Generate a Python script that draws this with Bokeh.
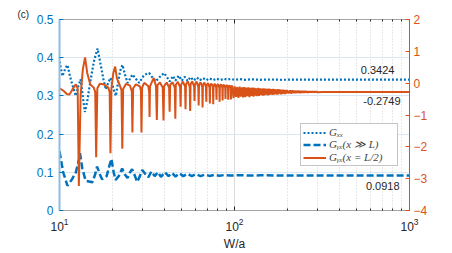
from bokeh.plotting import figure
from bokeh.models import Range1d, LinearAxis, LogAxis, FixedTicker, Legend, LegendItem, Label
from bokeh.embed import file_html
from bokeh.resources import INLINE

BLUE = "#0072BD"
ORANGE = "#D95319"

# G_xx (left axis)
GXX = [(10.0, 0.390), (10.4, 0.352), (10.8, 0.372), (11.1, 0.381), (11.5, 0.350), (11.9, 0.326),
       (12.4, 0.300), (12.8, 0.325), (13.2, 0.343), (13.5, 0.309), (13.95, 0.258), (14.4, 0.285),
       (14.8, 0.321), (15.3, 0.360), (15.8, 0.394), (16.5, 0.424), (17.2, 0.381), (17.8, 0.345),
       (18.4, 0.317), (19.0, 0.335), (19.6, 0.347), (20.3, 0.320), (21.0, 0.300), (21.6, 0.335),
       (22.2, 0.365), (22.9, 0.381), (23.7, 0.355), (24.5, 0.334), (25.3, 0.345), (26.1, 0.356),
       (27.3, 0.345), (28.5, 0.334), (29.5, 0.345), (30.5, 0.355), (32.5, 0.360), (34.0, 0.348),
       (35.5, 0.338), (37.5, 0.350), (39.6, 0.360), (41.0, 0.350), (42.6, 0.338), (44.5, 0.352),
       (46.0, 0.340), (48.0, 0.353), (50.0, 0.340), (52.0, 0.350), (54.0, 0.339), (56.0, 0.349),
       (58.5, 0.340), (61.0, 0.348), (63.5, 0.341), (66.0, 0.347), (69.0, 0.341), (72.0, 0.346),
       (75.5, 0.341), (79.0, 0.3455), (83.0, 0.3415), (87.0, 0.345), (91.0, 0.342), (95.0, 0.3445),
       (100.0, 0.342), (107.0, 0.344), (115.0, 0.342), (125.0, 0.3435), (140.0, 0.3422),
       (160.0, 0.3430), (185.0, 0.3422), (220.0, 0.3426), (300.0, 0.3424), (1000.0, 0.3424)]

# G_yx(x >> L) (left axis)
GYX_FAR = [(10.0, 0.155), (10.5, 0.100), (11.1, 0.065), (11.8, 0.082), (12.4, 0.100), (12.9, 0.132),
           (13.1, 0.150), (13.5, 0.110), (14.1, 0.078), (15.4, 0.074), (16.0, 0.095), (16.4, 0.115),
           (17.0, 0.095), (17.5, 0.082), (18.6, 0.090), (19.3, 0.118), (19.8, 0.135), (20.4, 0.100),
           (20.9, 0.080), (21.8, 0.090), (22.8, 0.110), (23.6, 0.095), (24.5, 0.085), (25.3, 0.100),
           (26.0, 0.108), (26.9, 0.092), (27.8, 0.075), (28.8, 0.090), (29.7, 0.106), (31.0, 0.095),
           (32.2, 0.087), (33.5, 0.102), (35.0, 0.090), (36.5, 0.100), (38.0, 0.088), (40.0, 0.100),
           (42.0, 0.090), (44.0, 0.098), (46.0, 0.089), (48.5, 0.097), (51.0, 0.090), (54.0, 0.096),
           (57.0, 0.090), (60.0, 0.095), (64.0, 0.090), (68.0, 0.094), (72.0, 0.0905), (77.0, 0.0935),
           (82.0, 0.091), (88.0, 0.093), (95.0, 0.0915), (105.0, 0.0925), (120.0, 0.0916),
           (140.0, 0.0920), (200.0, 0.0918), (1000.0, 0.0918)]

# G_yx(x = L/2) (right axis)
GYX_HALF = [(10.0, -0.16), (10.5, -0.23), (11.0, -0.34), (11.4, -0.36), (11.9, -0.18), (12.4, -0.04),
            (12.7, -0.16), (12.9, -3.23), (13.2, -0.40), (13.6, 0.44), (14.0, 0.81), (14.4, 0.32),
            (15.0, -0.04), (15.7, -0.14), (16.0, -0.28), (16.2, -2.33), (16.45, -0.16), (17.0, -0.02),
            (18.0, -0.04), (19.0, -0.14), (19.35, -0.28), (19.55, -2.20), (19.8, -0.16), (20.3, 0.32),
            (20.8, 0.52), (21.3, 0.14), (22.0, -0.04), (22.6, -0.22), (22.85, -2.06), (23.1, -0.18),
            (24.0, -0.02), (25.3, -0.08), (25.9, -0.26), (26.1, -1.55), (26.35, -0.16), (27.3, -0.04),
            (28.8, -0.10), (29.2, -0.24), (29.4, -1.55), (29.65, -0.14), (30.5, 0.01), (32.2, -0.10),
            (32.55, -0.28), (32.7, -1.06), (32.9, -0.10), (34.0, 0.08), (34.6, 0.16), (35.6, -0.10),
            (36.0, -1.16), (36.3, -0.06), (37.5, 0.02), (38.9, -0.14), (39.3, -1.17), (39.6, -0.09),
            (41.0, 0.02),
            (42.3, -0.14), (42.6, -0.90), (42.9, -0.05), (44.2, 0.03),
            (45.6, -0.14), (45.9, -1.12), (46.2, -0.05), (47.5, 0.04),
            (48.9, -0.13), (49.2, -0.74), (49.5, -0.05), (50.8, 0.05),
            (52.2, -0.12), (52.5, -0.82), (52.8, -0.04), (54.1, 0.06),
            (55.5, -0.12), (55.8, -0.87), (56.1, -0.04), (57.4, 0.06),
            (58.8, -0.12), (59.1, -0.56), (59.4, -0.04), (60.7, 0.05),
            (62.1, -0.12), (62.4, -0.70), (62.7, -0.05), (64.0, 0.03),
            (65.4, -0.12), (65.7, -0.76), (66.0, -0.05), (67.3, 0.02),
            (68.7, -0.13), (69.0, -0.58), (69.3, -0.06), (70.6, 0.00),
            (72.0, -0.13), (72.3, -0.64), (72.6, -0.07), (73.9, -0.01),
            (75.3, -0.13), (75.6, -0.66), (75.9, -0.08), (77.2, -0.02),
            (78.6, -0.14), (78.9, -0.52), (79.2, -0.08), (80.5, -0.03),
            (81.9, -0.14), (82.2, -0.58), (82.5, -0.09), (83.8, -0.04),
            (85.2, -0.14), (85.5, -0.54), (85.8, -0.09), (87.1, -0.05),
            (88.5, -0.15), (88.8, -0.50), (89.1, -0.10), (90.4, -0.06),
            (91.8, -0.15), (92.1, -0.52), (92.4, -0.10), (93.7, -0.07),
            (95.1, -0.16), (95.4, -0.51), (95.7, -0.11), (97.0, -0.08),
            (98.7, -0.47), (100.35, -0.10), (102.0, -0.43), (103.65, -0.12), (105.3, -0.46), (106.95, -0.11),
            (108.6, -0.42), (110.25, -0.13), (111.9, -0.45), (113.55, -0.12), (115.2, -0.44), (116.85, -0.14),
            (118.5, -0.41), (120.15, -0.13), (121.8, -0.44), (123.45, -0.15), (125.1, -0.40), (126.75, -0.14),
            (128.4, -0.42), (130.05, -0.15), (131.7, -0.39), (133.35, -0.16), (135.0, -0.41), (136.65, -0.15),
            (138.3, -0.40), (139.95, -0.16), (141.6, -0.37), (143.25, -0.17), (144.9, -0.39), (146.55, -0.16),
            (148.2, -0.38), (149.85, -0.17), (151.5, -0.36), (153.15, -0.18), (154.8, -0.38), (156.45, -0.17),
            (158.1, -0.37), (159.75, -0.18), (161.4, -0.35), (163.05, -0.19), (164.7, -0.37), (166.35, -0.18),
            (168.0, -0.36), (169.65, -0.19), (171.3, -0.34), (172.95, -0.20), (174.6, -0.36), (176.25, -0.19),
            (177.9, -0.35), (179.55, -0.20), (181.2, -0.33), (182.85, -0.20), (184.5, -0.35), (186.15, -0.21),
            (187.8, -0.34), (189.45, -0.20), (191.1, -0.33), (192.75, -0.21), (194.4, -0.34), (196.05, -0.21),
            (197.7, -0.33), (199.35, -0.22),
            (204.3, -0.32), (207.6, -0.225), (210.9, -0.325), (214.2, -0.23), (217.5, -0.31), (220.8, -0.235),
            (224.1, -0.315), (227.4, -0.24), (230.7, -0.305), (234.0, -0.24), (237.3, -0.31), (240.6, -0.245),
            (243.9, -0.30), (247.2, -0.25), (250.5, -0.30), (253.8, -0.25), (257.1, -0.295), (260.4, -0.255),
            (263.7, -0.295), (267.0, -0.258), (270.3, -0.29), (273.6, -0.26), (276.9, -0.29), (280.2, -0.262),
            (283.5, -0.288), (286.8, -0.265), (290.1, -0.285), (293.4, -0.267), (296.7, -0.283),
            (320.0, -0.2749), (1000.0, -0.2749)]

X_TICKS = [10, 100, 1000]
X_MINOR = [20, 30, 40, 50, 60, 70, 80, 90, 200, 300, 400, 500, 600, 700, 800, 900]
X_LABELS = {"10": "10\u00b9", "100": "10\u00b2", "1000": "10\u00b3"}
L_TICKS = [0, 0.1, 0.2, 0.3, 0.4, 0.5]
R_TICKS = [-4, -3, -2, -1, 0, 1, 2]

FINAL_XX = "0.3424"
FINAL_HALF = "-0.2749"
FINAL_FAR = "0.0918"

p = figure(width=452, height=253, x_axis_type="log", x_range=Range1d(10, 1000),
           y_range=Range1d(0, 0.5), output_backend="svg", toolbar_location=None,
           min_border_left=59, min_border_right=43, min_border_top=19, min_border_bottom=40)
p.extra_y_ranges = {"r": Range1d(-4, 2)}
p.background_fill_color = "white"
p.border_fill_color = "white"
p.outline_line_color = "#a6a6a6"

TICK_FONT = "Liberation Sans"

p.title.text = "(c)"
p.title.align = "left"
p.title.offset = -42
p.title.standoff = 0
p.title.text_font = TICK_FONT
p.title.text_font_size = "10px"
p.title.text_font_style = "normal"
p.title.text_color = "#262626"

xa = p.xaxis[0]
xa.ticker = FixedTicker(ticks=X_TICKS, minor_ticks=X_MINOR)
xa.major_label_overrides = X_LABELS
xa.major_tick_in = 4
xa.major_tick_out = 0
xa.minor_tick_in = 2
xa.minor_tick_out = 0
xa.axis_line_color = "#a6a6a6"
xa.major_tick_line_color = "#262626"
xa.minor_tick_line_color = "#262626"
xa.major_label_text_font = TICK_FONT
xa.major_label_text_font_size = "12px"
xa.major_label_text_color = "#262626"
xa.major_label_standoff = 7
xa.axis_label = "W/a"
xa.axis_label_text_font = TICK_FONT
xa.axis_label_text_font_size = "12px"
xa.axis_label_text_font_style = "normal"
xa.axis_label_text_color = "#262626"
xa.axis_label_standoff = 3

top = LogAxis(ticker=FixedTicker(ticks=X_TICKS, minor_ticks=X_MINOR),
              major_label_text_font_size="1px", major_label_text_alpha=0,
              major_tick_in=4, major_tick_out=0, minor_tick_in=2, minor_tick_out=0,
              axis_line_color="#a6a6a6", major_tick_line_color="#262626",
              minor_tick_line_color="#262626", major_label_standoff=0)
p.add_layout(top, "above")

ya = p.yaxis[0]
ya.ticker = FixedTicker(ticks=L_TICKS)
ya.major_label_overrides = {"0": "0"}
ya.major_tick_in = 4
ya.major_tick_out = 0
ya.minor_tick_line_color = None
ya.axis_line_color = "#8fbde0"
ya.axis_line_width = 2
ya.major_tick_line_color = BLUE
ya.major_label_text_color = BLUE
ya.major_label_text_font = TICK_FONT
ya.major_label_text_font_size = "12px"
ya.major_label_standoff = 6

ra = LinearAxis(y_range_name="r", ticker=FixedTicker(ticks=R_TICKS))
ra.major_tick_in = 4
ra.major_tick_out = 0
ra.minor_tick_line_color = None
ra.axis_line_color = ORANGE
ra.major_tick_line_color = ORANGE
ra.major_label_text_color = ORANGE
ra.major_label_text_font = TICK_FONT
ra.major_label_text_font_size = "12px"
ra.major_label_standoff = 4
p.add_layout(ra, "right")

p.xgrid.ticker = FixedTicker(ticks=X_TICKS, minor_ticks=X_MINOR)
p.xgrid.grid_line_color = "#dcdcdc"
p.xgrid.minor_grid_line_color = "#d0d0d0"
p.xgrid.minor_grid_line_dash = "1 2"
p.ygrid.ticker = FixedTicker(ticks=L_TICKS)
p.ygrid.grid_line_color = "#d9e8f4"

r1 = p.line([w for w, g in GXX], [g for w, g in GXX], line_color=BLUE, line_width=2.2, line_dash="2 2")
r2 = p.line([w for w, g in GYX_FAR], [g for w, g in GYX_FAR], line_color=BLUE, line_width=2.5, line_dash="7 3")
r3 = p.line([w for w, g in GYX_HALF], [g for w, g in GYX_HALF], line_color=ORANGE, line_width=2,
            y_range_name="r")

legend = Legend(items=[LegendItem(label="G\u2093\u2093", renderers=[r1]),
                       LegendItem(label="G\u1d67\u2093(x \u226b L)", renderers=[r2]),
                       LegendItem(label="G\u1d67\u2093(x = L/2)", renderers=[r3])],
                location=(241, 44), glyph_width=23, glyph_height=11, label_height=11,
                label_width=66, spacing=0, padding=2, margin=0, label_standoff=3,
                label_text_font="Liberation Serif", label_text_font_style="italic",
                label_text_font_size="11px", border_line_color="#8c8c8c",
                background_fill_alpha=1.0)
p.add_layout(legend)

p.add_layout(Label(x=820, y=0.367, text=FINAL_XX, text_align="right", text_baseline="middle",
                   text_font=TICK_FONT, text_font_size="11px", text_color="#262626"))
p.add_layout(Label(x=889, y=-0.55, y_range_name="r", text=FINAL_HALF, text_align="right",
                   text_baseline="middle", text_font=TICK_FONT, text_font_size="11px",
                   text_color="#262626"))
p.add_layout(Label(x=877, y=0.065, text=FINAL_FAR, text_align="right", text_baseline="middle",
                   text_font=TICK_FONT, text_font_size="11px", text_color="#262626"))

open("out.html", "w").write(file_html(p, INLINE))
